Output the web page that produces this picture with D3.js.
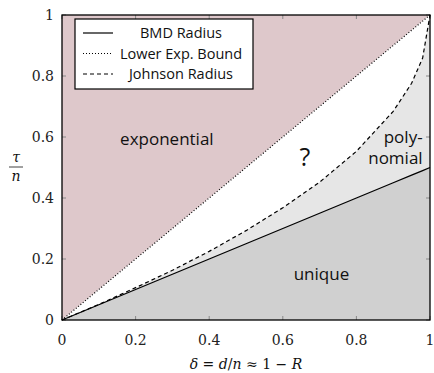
<!DOCTYPE html>
<html>
<head>
<meta charset="utf-8">
<script src="https://cdn.jsdelivr.net/npm/d3@7"></script>
<style>
  body { margin: 0; background: #fff; }
  svg { display: block; }
  .tick-label { font-family: "DejaVu Serif", "Liberation Serif", serif; font-size: 14px; fill: #222; }
  .sans { font-family: "Open Sans", "DejaVu Sans", sans-serif; fill: #111; }
</style>
</head>
<body>
<svg id="chart" width="434" height="373"></svg>
<script>
// data
var delta = [0, 0.1, 0.2, 0.3, 0.4, 0.5, 0.6, 0.7, 0.8, 0.9, 0.95, 0.98, 1];
var bmdRadius = [0, 0.05, 0.1, 0.15, 0.2, 0.25, 0.3, 0.35, 0.4, 0.45, 0.475, 0.49, 0.5];
var lowerExpBound = [0, 0.1, 0.2, 0.3, 0.4, 0.5, 0.6, 0.7, 0.8, 0.9, 0.95, 0.98, 1];
var johnsonRadius = [0, 0.051, 0.106, 0.163, 0.225, 0.293, 0.368, 0.452, 0.553, 0.684, 0.776, 0.859, 1];
var tickValues = [0, 0.2, 0.4, 0.6, 0.8, 1];
var tickLabels = ["0", "0.2", "0.4", "0.6", "0.8", "1"];
var legendNames = ["BMD Radius", "Lower Exp. Bound", "Johnson Radius"];
var regionLabels = ["exponential", "?", "unique"];

var svg = d3.select("#chart");
var margin = { top: 15, right: 4, bottom: 53, left: 62 },
    width = 434 - margin.left - margin.right,
    height = 373 - margin.top - margin.bottom;

var x = d3.scaleLinear().domain([0, 1]).range([0, width]);
var y = d3.scaleLinear().domain([0, 1]).range([height, 0]);

var g = svg.append("g").attr("transform", "translate(" + margin.left + "," + margin.top + ")");

var pts = function (vals) { return delta.map(function (d, i) { return [d, vals[i]]; }); };
var line = d3.line().x(function (d) { return x(d[0]); }).y(function (d) { return y(d[1]); });
var area = d3.area()
    .x(function (d) { return x(d[0]); })
    .y0(function (d) { return y(d[1]); })
    .y1(function (d) { return y(d[2]); });
var band = function (lo, hi) { return delta.map(function (d, i) { return [d, lo[i], hi[i]]; }); };
var ones = delta.map(function () { return 1; });
var zeros = delta.map(function () { return 0; });

// regions
g.append("path").attr("d", area(band(lowerExpBound, ones))).attr("fill", "#dec8cb");
g.append("path").attr("d", area(band(johnsonRadius, lowerExpBound))).attr("fill", "#ffffff");
g.append("path").attr("d", area(band(bmdRadius, johnsonRadius))).attr("fill", "#e6e6e6");
g.append("path").attr("d", area(band(zeros, bmdRadius))).attr("fill", "#d0d0d0");

// ticks (inside)
var tl = 4;
tickValues.forEach(function (t) {
    g.append("line").attr("x1", x(t)).attr("x2", x(t)).attr("y1", height).attr("y2", height - tl).attr("stroke", "#888");
    g.append("line").attr("x1", x(t)).attr("x2", x(t)).attr("y1", 0).attr("y2", tl).attr("stroke", "#888");
    g.append("line").attr("x1", 0).attr("x2", tl).attr("y1", y(t)).attr("y2", y(t)).attr("stroke", "#888");
    g.append("line").attr("x1", width).attr("x2", width - tl).attr("y1", y(t)).attr("y2", y(t)).attr("stroke", "#888");
});

// curves
g.append("path").attr("d", line(pts(lowerExpBound))).attr("fill", "none")
    .attr("stroke", "#000").attr("stroke-width", 1.2).attr("stroke-dasharray", "1 2");
g.append("path").attr("d", line(pts(johnsonRadius))).attr("fill", "none")
    .attr("stroke", "#000").attr("stroke-width", 1.2).attr("stroke-dasharray", "4 3");
g.append("path").attr("d", line(pts(bmdRadius))).attr("fill", "none")
    .attr("stroke", "#000").attr("stroke-width", 1.3);

// frame
g.append("rect").attr("width", width).attr("height", height)
    .attr("fill", "none").attr("stroke", "#000").attr("stroke-width", 1.3);

// tick labels
tickValues.forEach(function (t, i) {
    g.append("text").attr("class", "tick-label").attr("x", x(t)).attr("y", height + 25)
        .attr("text-anchor", "middle").text(tickLabels[i]);
    g.append("text").attr("class", "tick-label").attr("x", -8).attr("y", y(t) + 5)
        .attr("text-anchor", "end").text(tickLabels[i]);
});

// axis labels
var serif = "'DejaVu Serif', 'Liberation Serif', serif";
var xl = svg.append("text").attr("x", 246).attr("y", 369).attr("text-anchor", "middle")
    .style("font-family", serif).style("font-size", "14px").attr("fill", "#111");
xl.append("tspan").style("font-style", "italic").text("δ");
xl.append("tspan").text(" = ");
xl.append("tspan").style("font-style", "italic").text("d");
xl.append("tspan").text("/");
xl.append("tspan").style("font-style", "italic").text("n");
xl.append("tspan").text(" ≈ 1 − ");
xl.append("tspan").style("font-style", "italic").text("R");

svg.append("text").attr("x", 16).attr("y", 162).attr("text-anchor", "middle")
    .style("font-family", serif).style("font-style", "italic").style("font-size", "14px").attr("fill", "#111").text("τ");
svg.append("line").attr("x1", 9).attr("x2", 23).attr("y1", 167).attr("y2", 167).attr("stroke", "#111").attr("stroke-width", 0.8);
svg.append("text").attr("x", 16).attr("y", 181).attr("text-anchor", "middle")
    .style("font-family", serif).style("font-style", "italic").style("font-size", "14px").attr("fill", "#111").text("n");

// region labels
g.append("text").attr("class", "sans").attr("x", x(0.285)).attr("y", y(0.575)).attr("text-anchor", "middle")
    .style("font-size", "17px").text(regionLabels[0]);
g.append("text").attr("class", "sans").attr("x", x(0.66)).attr("y", y(0.505)).attr("text-anchor", "middle")
    .style("font-size", "25px").text(regionLabels[1]);
g.append("text").attr("class", "sans").attr("x", x(0.705)).attr("y", y(0.13)).attr("text-anchor", "middle")
    .style("font-size", "17px").text(regionLabels[2]);
g.append("text").attr("class", "sans").attr("x", x(0.98)).attr("y", y(0.58)).attr("text-anchor", "end")
    .style("font-size", "17px").text("poly-");
g.append("text").attr("class", "sans").attr("x", x(0.98)).attr("y", y(0.51)).attr("text-anchor", "end")
    .style("font-size", "17px").text("nomial");

// legend
var leg = svg.append("g").attr("transform", "translate(75,19)");
leg.append("rect").attr("width", 178).attr("height", 70).attr("fill", "#fff")
    .attr("stroke", "#000").attr("stroke-width", 1.2);
var dashes = [null, "1 2", "4 3"];
legendNames.forEach(function (name, i) {
    var yy = 14 + i * 20.5;
    leg.append("line").attr("x1", 8).attr("x2", 38).attr("y1", yy).attr("y2", yy)
        .attr("stroke", "#000").attr("stroke-width", 1.2).attr("stroke-dasharray", dashes[i]);
    leg.append("text").attr("class", "sans").attr("x", 106).attr("y", yy + 5).attr("text-anchor", "middle")
        .style("font-size", "14.5px").text(name);
});
</script>
</body>
</html>
